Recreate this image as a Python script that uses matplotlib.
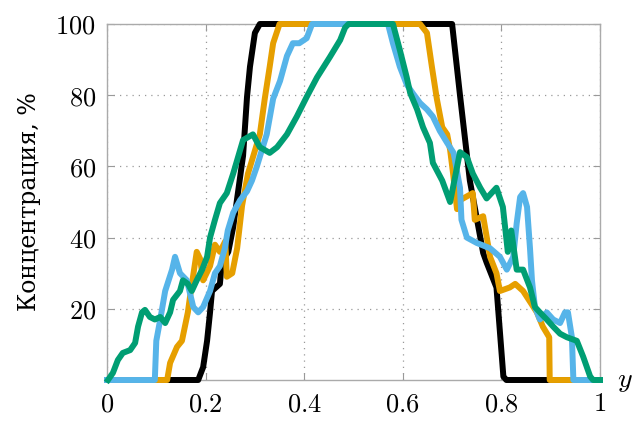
import matplotlib.pyplot as plt

plt.rcParams['mathtext.fontset'] = 'cm'
plt.rcParams['font.family'] = ['DejaVu Serif']

# black curve
black_x = [0.0, 0.185, 0.195, 0.203, 0.209, 0.213, 0.229, 0.233, 0.246, 0.256, 0.276,
           0.284, 0.29, 0.30, 0.31, 0.70, 0.716, 0.736, 0.763, 0.77, 0.79, 0.804, 0.81, 1.0]
black_y = [0, 0, 3.6, 11, 19, 25, 27, 33, 36, 43, 63,
           79.5, 88, 97.5, 100, 100, 80, 56, 35.7, 33, 26, 1, 0, 0]

# orange curve
orange_x = [0.0, 0.122, 0.128, 0.142, 0.152, 0.164, 0.168, 0.182, 0.189, 0.195, 0.209,
            0.219, 0.229, 0.24, 0.243, 0.254, 0.264, 0.274, 0.286, 0.31, 0.32, 0.33,
            0.337, 0.35, 0.635, 0.649, 0.659, 0.669, 0.68, 0.69, 0.696, 0.702, 0.71,
            0.716, 0.742, 0.746, 0.763, 0.777, 0.79, 0.797, 0.817, 0.828, 0.844, 0.872,
            0.884, 0.897, 0.898, 1.0]
orange_y = [0, 0, 4.8, 9.3, 11, 19, 23, 36, 34, 28, 32,
            38, 36, 39, 29, 30, 37, 49, 58, 69, 79, 88,
            94.6, 100, 100, 97.5, 88, 79, 71, 69, 64.6, 58, 48,
            50.5, 52.5, 45, 46, 34.6, 30, 25, 26, 27, 25, 19,
            15, 12, 0, 0]

# light blue curve
blue_x = [0.0, 0.097, 0.10, 0.108, 0.118, 0.132, 0.138, 0.148, 0.162, 0.175, 0.185,
          0.195, 0.209, 0.219, 0.229, 0.239, 0.245, 0.256, 0.27, 0.284, 0.294, 0.304,
          0.324, 0.337, 0.351, 0.365, 0.377, 0.39, 0.405, 0.416, 0.57, 0.58, 0.594,
          0.608, 0.62, 0.635, 0.649, 0.661, 0.675, 0.69, 0.703, 0.716, 0.719, 0.73,
          0.75, 0.777, 0.797, 0.811, 0.824, 0.831, 0.838, 0.844, 0.852, 0.858, 0.862,
          0.868, 0.878, 0.892, 0.905, 0.919, 0.929, 0.935, 0.943, 0.946, 1.0]
blue_y = [0, 0, 11, 17, 25, 31, 34.6, 30, 28, 20.5, 19,
          20.5, 25, 30, 32, 37, 42, 47, 50.5, 53, 56, 60,
          69, 79, 84, 91, 94.6, 94.6, 96, 100, 100, 94.6, 88,
          83, 80.6, 77.8, 76, 74, 70, 66.6, 63.8, 54, 45, 40,
          38.5, 37, 34.6, 31, 34.6, 44, 51.4, 52.5, 48.6, 37, 28,
          20.5, 17, 19, 17, 16, 19, 19, 12, 0, 0]

# green curve
green_x = [0.002, 0.012, 0.022, 0.032, 0.047, 0.057, 0.063, 0.071, 0.077, 0.087, 0.097,
           0.108, 0.118, 0.128, 0.134, 0.148, 0.154, 0.164, 0.172, 0.182, 0.193, 0.203,
           0.209, 0.219, 0.229, 0.243, 0.256, 0.276, 0.296, 0.31, 0.33, 0.345, 0.365,
           0.385, 0.405, 0.426, 0.452, 0.473, 0.483, 0.49, 0.58, 0.594, 0.608, 0.615,
           0.629, 0.641, 0.655, 0.661, 0.68, 0.696, 0.716, 0.73, 0.742, 0.757, 0.77,
           0.79, 0.803, 0.813, 0.82, 0.831, 0.844, 0.858, 0.868, 0.878, 0.892,
           0.905, 0.919, 0.933, 0.953, 0.966, 0.98, 0.986, 1.0]
green_y = [0, 2, 5.6, 7.6, 8.4, 10.4, 15, 19, 19.7, 17.7, 17,
           17.7, 16, 19, 22.5, 25, 28, 27, 25, 28, 31, 34.6,
           40, 45, 49.7, 52.5, 58, 67.4, 69, 65.4, 63.8, 65.4, 69,
           74, 79.5, 85, 90.7, 95.5, 99, 100, 100, 92.7, 85, 80.6,
           76, 71, 66.6, 61, 56, 50, 64, 62.6, 58, 54, 51,
           54, 48.6, 36, 42, 31, 31, 26, 20.5, 19, 17,
           15, 13, 12, 11, 6.5, 1, 0, 0]

x_ticks = [0, 0.2, 0.4, 0.6, 0.8, 1]
x_labels = ['0', '0.2', '0.4', '0.6', '0.8', '1']
y_ticks = [20, 40, 60, 80, 100]
y_labels = ['20', '40', '60', '80', '100']

fig = plt.figure(figsize=(6.35, 4.24), dpi=100)
ax = fig.add_axes([107 / 635, 44 / 424, 493 / 635, 356 / 424])

lw = 4.3
ax.plot(black_x, black_y, color='black', lw=lw, clip_on=False, zorder=3)
ax.plot(orange_x, orange_y, color='#E69F00', lw=lw, clip_on=False, zorder=4)
ax.plot(blue_x, blue_y, color='#56B4E9', lw=lw, clip_on=False, zorder=5)
ax.plot(green_x, green_y, color='#009E73', lw=lw, clip_on=False, zorder=6)

ax.set_xlim(0, 1)
ax.set_ylim(0, 100)
ax.set_xticks(x_ticks)
ax.set_xticklabels(['$' + s + '$' for s in x_labels], fontsize=19)
ax.set_yticks(y_ticks)
ax.set_yticklabels(['$' + s + '$' for s in y_labels], fontsize=19)
ax.tick_params(direction='in', length=5, color='#999999', top=True, right=True, pad=8)

ax.grid(True, linestyle=(0, (1, 4)), color='#999999', lw=0.9)
for s in ax.spines.values():
    s.set_color('#aaaaaa')
    s.set_linewidth(1.0)

ax.set_ylabel('Концентрация, %', fontsize=17, labelpad=10)
ax.text(1.035, 0.0, '$y$', transform=ax.transAxes, fontsize=20, va='center', ha='left')

fig.savefig('out.png', dpi=100)
